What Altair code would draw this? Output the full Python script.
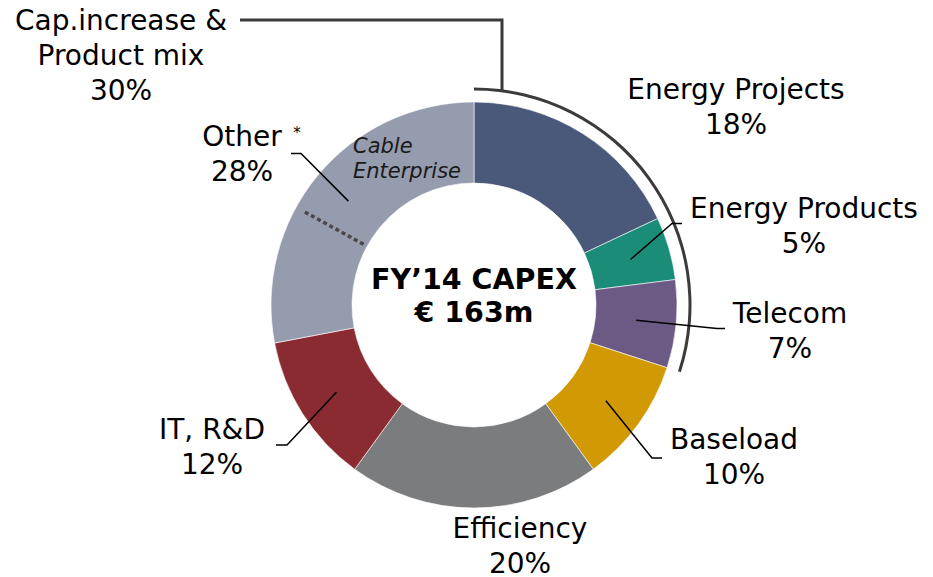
import altair as alt
import pandas as pd
import numpy as np

# ---------------- data ----------------
categories = ["Energy Projects", "Energy Products", "Telecom", "Baseload",
              "Efficiency", "IT, R&D", "Other"]
shares = [18, 5, 7, 10, 20, 12, 28]
colors = ["#4a5879", "#1a8c78", "#6a5a84", "#d19a04", "#7b7c7e", "#8a2a31", "#959cae"]
group_lines = ["Cap.increase &", "Product mix"]
group_members = ["Energy Projects", "Energy Products", "Telecom"]
cable_enterprise_share = 17          # part of "Other" shown as Cable Enterprise
cable_lines = ["Cable", "Enterprise"]
center_lines = ["FY\u201914 CAPEX", "\u20ac 163m"]

# ---------------- layout (page pixel space) ----------------
W, H = 917, 569
CX, CY = 474, 305
R_OUT, R_IN = 203, 122
R_LEAD = 163
LINE = 35
FS = 28
label_pos = {
    "Energy Projects": (736, 91),
    "Energy Products": (804, 210),
    "Telecom": (790, 315),
    "Baseload": (734, 441),
    "Efficiency": (520, 530),
    "IT, R&D": (212, 431),
    "Other": (242, 138),
}
leader_pts = {
    "Energy Products": [(672, 223.5), (682, 223.5)],
    "Telecom": [(717, 328.5), (725, 328.5)],
    "Baseload": [(652, 458), (662, 458)],
    "IT, R&D": [(287, 445), (276, 445)],
    "Other": [(301, 153.5), (291, 153.5)],
}
group_pos = (121, 22)
bracket_path = [(240, 20), (502, 20), (502, 91)]

xs = alt.Scale(domain=[8, 8 + W], range=[0, W])
ys = alt.Scale(domain=[8, 8 + H], range=[0, H])
ts = alt.Scale(domain=[0, 100], range=[0, 2 * np.pi])

# ---------------- donut ----------------
ends = np.cumsum(shares)
starts = ends - np.array(shares)
df = pd.DataFrame({"category": categories, "share": shares,
                   "start": starts, "end": ends, "cx": CX, "cy": CY})

donut = alt.Chart(df).mark_arc(radius=R_OUT, radius2=R_IN, stroke="#ffffff",
                               strokeWidth=0.6).encode(
    x=alt.X("cx:Q", scale=xs, axis=None),
    y=alt.Y("cy:Q", scale=ys, axis=None),
    theta=alt.Theta("start:Q", scale=ts, stack=None),
    theta2="end:Q",
    color=alt.Color("category:N", scale=alt.Scale(domain=categories, range=colors), legend=None),
)

group_share = sum(s for c, s in zip(categories, shares) if c in group_members)
bdf = pd.DataFrame({"start": [0], "end": [group_share], "cx": [CX], "cy": [CY]})
bracket_arc = alt.Chart(bdf).mark_arc(radius=217.5, radius2=214.5, color="#3d3a3a").encode(
    x=alt.X("cx:Q", scale=xs, axis=None),
    y=alt.Y("cy:Q", scale=ys, axis=None),
    theta=alt.Theta("start:Q", scale=ts, stack=None),
    theta2="end:Q",
)

bp = pd.DataFrame({"x": [p[0] for p in bracket_path], "y": [p[1] for p in bracket_path],
                   "o": list(range(len(bracket_path)))})
bracket_line = alt.Chart(bp).mark_line(color="#3d3a3a", strokeWidth=3,
                                       strokeJoin="miter").encode(
    x=alt.X("x:Q", scale=xs, axis=None),
    y=alt.Y("y:Q", scale=ys, axis=None),
    order="o:O",
)

# ---------------- leader lines ----------------
rows = []
for c, s0, s1 in zip(categories, starts, ends):
    if c not in leader_pts:
        continue
    a = (s0 + s1) / 2 / 100 * 2 * np.pi
    pts = [(CX + R_LEAD * np.sin(a), CY - R_LEAD * np.cos(a))] + leader_pts[c]
    for i, (px, py) in enumerate(pts):
        rows.append({"category": c, "x": px, "y": py, "o": i})
ld = pd.DataFrame(rows)
leaders = alt.Chart(ld).mark_line(color="#000000", strokeWidth=1.5).encode(
    x=alt.X("x:Q", scale=xs, axis=None),
    y=alt.Y("y:Q", scale=ys, axis=None),
    detail="category:N",
    order="o:O",
)

# dotted split inside "Other"
a = (100 - cable_enterprise_share) / 100 * 2 * np.pi
dd = pd.DataFrame({"x": [CX + r * np.sin(a) for r in (126, 195)],
                   "y": [CY - r * np.cos(a) for r in (126, 195)], "o": [0, 1]})
dotted = alt.Chart(dd).mark_line(color="#4a4848", strokeWidth=3.5,
                                 strokeDash=[4, 3]).encode(
    x=alt.X("x:Q", scale=xs, axis=None),
    y=alt.Y("y:Q", scale=ys, axis=None),
    order="o:O",
)

# ---------------- texts ----------------
trows = []
for c, s in zip(categories, shares):
    lx, ly = label_pos[c]
    trows.append({"x": lx, "y": ly, "t": c})
    trows.append({"x": lx, "y": ly + LINE, "t": f"{s}%"})
gx, gy = group_pos
for i, t in enumerate(group_lines + [f"{group_share}%"]):
    trows.append({"x": gx, "y": gy + i * LINE, "t": t})
tdf = pd.DataFrame(trows)
labels = alt.Chart(tdf).mark_text(font="DejaVu Sans", fontSize=FS, color="#000000",
                                  align="center", baseline="middle").encode(
    x=alt.X("x:Q", scale=xs, axis=None),
    y=alt.Y("y:Q", scale=ys, axis=None),
    text="t:N",
)

star = alt.Chart(pd.DataFrame({"x": [297], "y": [133], "t": ["*"]})).mark_text(
    font="DejaVu Sans", fontSize=15, color="#000000", align="center", baseline="middle").encode(
    x=alt.X("x:Q", scale=xs, axis=None),
    y=alt.Y("y:Q", scale=ys, axis=None),
    text="t:N",
)

cdf = pd.DataFrame({"x": [353, 353], "y": [147, 172], "t": cable_lines})
cable = alt.Chart(cdf).mark_text(font="DejaVu Sans", fontSize=21, fontStyle="italic",
                                 color="#1a1a1a", align="left", baseline="middle").encode(
    x=alt.X("x:Q", scale=xs, axis=None),
    y=alt.Y("y:Q", scale=ys, axis=None),
    text="t:N",
)

ctr = pd.DataFrame({"x": [CX, CX], "y": [280, 313], "t": center_lines})
center = alt.Chart(ctr).mark_text(font="DejaVu Sans", fontSize=28.5, fontWeight="bold",
                                  color="#000000", align="center", baseline="middle").encode(
    x=alt.X("x:Q", scale=xs, axis=None),
    y=alt.Y("y:Q", scale=ys, axis=None),
    text="t:N",
)

chart = alt.layer(donut, bracket_arc, bracket_line, dotted, leaders,
                  labels, star, cable, center).properties(
    width=W, height=H, autosize=alt.AutoSizeParams(type="none"), padding=0,
    background="#ffffff",
).configure_view(stroke=None)

chart.save("out.html", embed_options={"renderer": "svg", "actions": False})
